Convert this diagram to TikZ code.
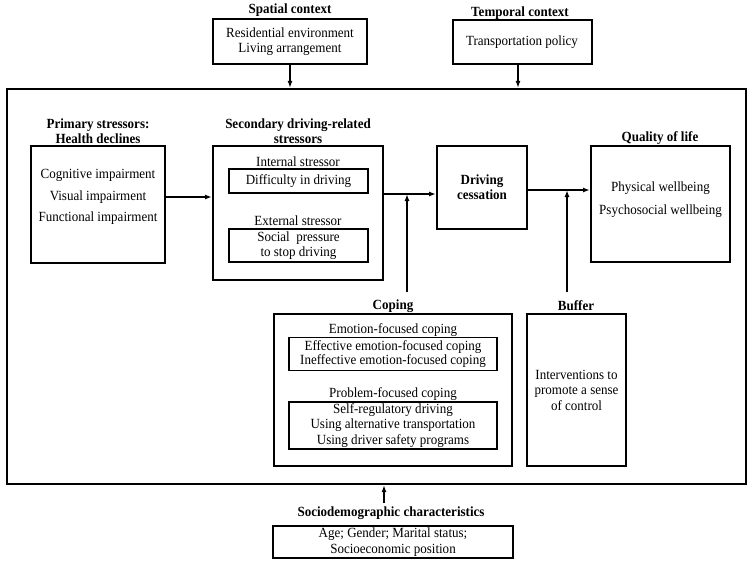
\documentclass[tikz,border=0pt]{standalone}
\usepackage{fontspec}
\setmainfont[FakeStretch=0.93]{Liberation Serif}
\usetikzlibrary{arrows.meta}

\begin{document}
\begin{tikzpicture}[x=1pt, y=-1pt,
    every node/.style={font=\fontsize{14}{15.5}\selectfont, align=center},
    hd/.style={font=\fontsize{14}{15}\selectfont\bfseries},
    box/.style={draw, line width=2pt, inner sep=0pt},
    inbox/.style={draw, line width=1.8pt, inner sep=0pt},
    arr/.style={-{Latex[length=7pt,width=5pt]}, line width=2pt}]
    \useasboundingbox (0,0) rectangle (754,565);

    % context
    \node[hd] (spatialhd) at (290,10) {Spatial context};
    \node[box, minimum width=154, minimum height=45] (spatial) at (290,41.5) {Residential environment\\Living arrangement};
    \node[hd] (temporalhd) at (520,13) {Temporal context};
    \node[box, minimum width=139, minimum height=44] (temporal) at (522,42) {Transportation policy};

    \node[box, line width=2.2pt, minimum width=739, minimum height=395] (frame) at (376.5,286.5) {};

    % stressors
    \node[hd] (primaryhd) at (98,131) {Primary stressors:\\Health declines};
    \node[box, minimum width=134, minimum height=117] (primary) at (98,204.5) {};
    \node (primarytxt) at (98,197) {Cognitive impairment\\[6pt]Visual impairment\\[6pt]Functional impairment};

    \node[hd] (secondaryhd) at (298,131) {Secondary driving-related\\stressors};
    \node[box, minimum width=170, minimum height=134] (secondary) at (298,213) {};
    \node (internal) at (298,162) {Internal stressor};
    \node[inbox, minimum width=139, minimum height=24] (difficulty) at (298.5,181) {Difficulty in driving};
    \node (external) at (298,221) {External stressor};
    \node[inbox, minimum width=139, minimum height=33] (social) at (298.5,245.5) {Social\ \ pressure\\to stop driving};

    % outcome
    \node[box, hd, minimum width=90, minimum height=83] (cessation) at (482,187.5) {Driving\\cessation};
    \node[hd] (qualityhd) at (660,138) {Quality of life};
    \node[box, minimum width=139, minimum height=116] (quality) at (660.5,204) {};
    \node (qualitytxt) at (660.5,199.5) {Physical wellbeing\\[7.5pt]Psychosocial wellbeing};

    % moderators
    \node[hd] (copinghd) at (393,306) {Coping};
    \node[box, minimum width=238, minimum height=152] (coping) at (393,390) {};
    \node (emotion) at (393,330) {Emotion-focused coping};
    \node[inbox, minimum width=208, minimum height=33, font=\fontsize{14}{14.5}\selectfont] (emotionbox) at (393,354) {Effective emotion-focused coping\\Ineffective emotion-focused coping};
    \node (problem) at (393,394) {Problem-focused coping};
    \node[inbox, minimum width=208, minimum height=47] (problembox) at (393,425.5) {Self-regulatory driving\\Using alternative transportation\\Using driver safety programs};

    \node[hd] (bufferhd) at (576,306) {Buffer};
    \node[box, minimum width=99, minimum height=152] (buffer) at (576.5,390) {Interventions to\\promote a sense\\of control};

    \node[hd] (sociohd) at (391,513) {Sociodemographic characteristics};
    \node[box, minimum width=240, minimum height=32] (socio) at (393,542) {Age; Gender; Marital status;\\Socioeconomic position};

    \coordinate (t1) at (518,0);
    \coordinate (j1) at (407,194);
    \coordinate (j2) at (567,190);
    \coordinate (c1) at (407,292);
    \coordinate (c2) at (567,292);
    \coordinate (s1) at (384,503);

    \draw[arr] (spatial) -- (spatial |- frame.north);
    \draw[arr] (temporal.south -| t1) -- (t1 |- frame.north);
    \draw[arr] (primary.east |- primarytxt) -- (secondary.west |- primarytxt);
    \draw[arr] (secondary.east |- j1) -- (cessation.west |- j1);
    \draw[arr] (c1) -- (j1);
    \draw[arr] (cessation.east |- j2) -- (quality.west |- j2);
    \draw[arr] (c2) -- (j2);
    \draw[arr] (s1) -- (s1 |- frame.south);
\end{tikzpicture}
\end{document}
